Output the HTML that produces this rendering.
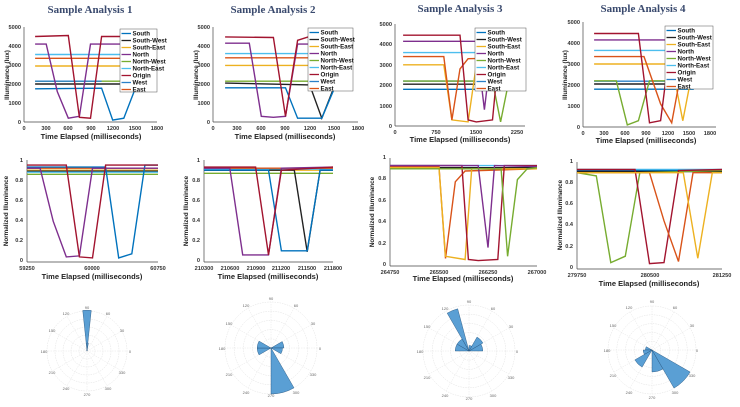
<!DOCTYPE html>
<html><head><meta charset="utf-8"><style>
html,body{margin:0;padding:0;background:#fff;}
svg{display:block;font-family:"Liberation Sans",Arial,sans-serif;}
.t{font-family:"Liberation Serif",serif;font-weight:bold;font-size:11px;fill:#3a4a6e;}
.tk{font-size:5.6px;font-weight:bold;fill:#333;}
.xl{font-size:7.5px;font-weight:bold;fill:#222;}
.yl{font-size:6.3px;font-weight:bold;fill:#222;}
.lg{font-size:6.2px;font-weight:bold;fill:#111;}
</style></head><body>
<div style="position:relative;width:740px;height:407px">
<svg id="s" width="740" height="407" viewBox="0 0 740 407" xmlns="http://www.w3.org/2000/svg" style="position:absolute;left:0;top:0">
<g id="g"></g>
<text class="t" x="90" y="13" text-anchor="middle">Sample Analysis 1</text>
<text class="t" x="273" y="13" text-anchor="middle">Sample Analysis 2</text>
<text class="t" x="460" y="12" text-anchor="middle">Sample Analysis 3</text>
<text class="t" x="643" y="12" text-anchor="middle">Sample Analysis 4</text>

<g class="tk" text-anchor="end">
<text x="21" y="124">0</text><text x="21" y="105">1000</text><text x="21" y="86">2000</text><text x="21" y="67">3000</text><text x="21" y="48">4000</text><text x="21" y="29">5000</text>
<text x="210" y="124">0</text><text x="210" y="105">1000</text><text x="210" y="86">2000</text><text x="210" y="67">3000</text><text x="210" y="48">4000</text><text x="210" y="29">5000</text>
<text x="392" y="128">0</text><text x="392" y="108">1000</text><text x="392" y="87">2000</text><text x="392" y="67">3000</text><text x="392" y="46">4000</text><text x="392" y="26">5000</text>
<text x="580" y="129">0</text><text x="580" y="108">1000</text><text x="580" y="87">2000</text><text x="580" y="66">3000</text><text x="580" y="45">4000</text><text x="580" y="24">5000</text>
</g>
<g class="tk" text-anchor="middle">
<text x="24" y="130">0</text><text x="46" y="130">300</text><text x="68" y="130">600</text><text x="91" y="130">900</text><text x="113" y="130">1200</text><text x="135" y="130">1500</text><text x="157" y="130">1800</text>
<text x="213" y="130">0</text><text x="237" y="130">300</text><text x="261" y="130">600</text><text x="285" y="130">900</text><text x="310" y="130">1200</text><text x="334" y="130">1500</text><text x="358" y="130">1800</text>
<text x="395" y="134">0</text><text x="436" y="134">750</text><text x="476" y="134">1500</text><text x="517" y="134">2250</text>
<text x="583" y="135">0</text><text x="604" y="135">300</text><text x="625" y="135">600</text><text x="646" y="135">900</text><text x="668" y="135">1200</text><text x="689" y="135">1500</text><text x="710" y="135">1800</text>
</g>
<g class="xl" text-anchor="middle">
<text x="91" y="139">Time Elapsed (milliseconds)</text>
<text x="285" y="139">Time Elapsed (milliseconds)</text>
<text x="460" y="142">Time Elapsed (milliseconds)</text>
<text x="646" y="143">Time Elapsed (milliseconds)</text>
<text x="92" y="279">Time Elapsed (milliseconds)</text>
<text x="268" y="279">Time Elapsed (milliseconds)</text>
<text x="463" y="281">Time Elapsed (milliseconds)</text>
<text x="649" y="286">Time Elapsed (milliseconds)</text>
</g>
<g class="yl">
<text transform="translate(9,75) rotate(-90)" text-anchor="middle">Illuminance (lux)</text>
<text transform="translate(198,75) rotate(-90)" text-anchor="middle">Illuminance (lux)</text>
<text transform="translate(567,75) rotate(-90)" text-anchor="middle">Illuminance (lux)</text>
<text transform="translate(8,211) rotate(-90)" text-anchor="middle">Normalized Illuminance</text>
<text transform="translate(188,211) rotate(-90)" text-anchor="middle">Normalized Illuminance</text>
<text transform="translate(374,212) rotate(-90)" text-anchor="middle">Normalized Illuminance</text>
<text transform="translate(562,215) rotate(-90)" text-anchor="middle">Normalized Illuminance</text>
</g>
<g class="tk" text-anchor="end">
<text x="23" y="262">0</text><text x="23" y="242">0.2</text><text x="23" y="222">0.4</text><text x="23" y="202">0.6</text><text x="23" y="182">0.8</text><text x="23" y="162">1</text>
<text x="200" y="262">0</text><text x="200" y="242">0.2</text><text x="200" y="222">0.4</text><text x="200" y="202">0.6</text><text x="200" y="182">0.8</text><text x="200" y="162">1</text>
<text x="386" y="266">0</text><text x="386" y="245">0.2</text><text x="386" y="223">0.4</text><text x="386" y="202">0.6</text><text x="386" y="180">0.8</text><text x="386" y="159">1</text>
<text x="573" y="269">0</text><text x="573" y="248">0.2</text><text x="573" y="226">0.4</text><text x="573" y="205">0.6</text><text x="573" y="184">0.8</text><text x="573" y="163">1</text>
</g>
<g class="tk" text-anchor="middle">
<text x="27" y="270">59250</text><text x="92" y="270">60000</text><text x="158" y="270">60750</text>
<text x="204" y="270">210300</text><text x="230" y="270">210600</text><text x="256" y="270">210900</text><text x="281" y="270">211200</text><text x="307" y="270">211500</text><text x="333" y="270">211800</text>
<text x="390" y="274">264750</text><text x="439" y="274">265500</text><text x="488" y="274">266250</text><text x="537" y="274">267000</text>
<text x="577" y="277">279750</text><text x="650" y="277">280500</text><text x="722" y="277">281250</text>
</g>
<g class="lg" id="lt"></g>
<g text-anchor="middle" font-size="4" fill="#666">
<text x="87" y="309">90</text><text x="87" y="396">270</text><text x="44" y="353">180</text><text x="130" y="353">0</text><text x="66" y="315">120</text><text x="108" y="315">60</text><text x="52" y="332">150</text><text x="122" y="332">30</text><text x="52" y="374">210</text><text x="122" y="374">330</text><text x="66" y="390">240</text><text x="108" y="390">300</text>
<text x="271" y="300">90</text><text x="271" y="397">270</text><text x="222" y="350">180</text><text x="320" y="350">0</text><text x="246" y="307">120</text><text x="296" y="307">60</text><text x="229" y="325">150</text><text x="313" y="325">30</text><text x="229" y="376">210</text><text x="313" y="376">330</text><text x="246" y="394">240</text><text x="296" y="394">300</text>
<text x="469" y="303">90</text><text x="469" y="400">270</text><text x="420" y="353">180</text><text x="517" y="353">0</text><text x="445" y="310">120</text><text x="493" y="310">60</text><text x="427" y="328">150</text><text x="511" y="328">30</text><text x="427" y="379">210</text><text x="511" y="379">330</text><text x="445" y="397">240</text><text x="493" y="397">300</text>
<text x="652" y="303">90</text><text x="652" y="399">270</text><text x="607" y="352">180</text><text x="697" y="352">0</text><text x="629" y="309">120</text><text x="675" y="309">60</text><text x="613" y="327">150</text><text x="692" y="327">30</text><text x="613" y="377">210</text><text x="692" y="377">330</text><text x="629" y="394">240</text><text x="675" y="394">300</text>
</g>
</svg>
</div>
<script>
var NS="http://www.w3.org/2000/svg",G=document.getElementById('g');
function el(n,a,p){var e=document.createElementNS(NS,n);for(var k in a)e.setAttribute(k,a[k]);(p||G).appendChild(e);return e;}
var C={S:'#0072BD',SW:'#222',SE:'#EDB120',N:'#7E2F8E',NW:'#77AC30',NE:'#4DBEEE',O:'#A2142F',W:'#2a80c8',E:'#D95319'};
function chart(f,series){
 el('line',{x1:f.x0,y1:f.y0,x2:f.x0,y2:f.y1,stroke:'#444','stroke-width':0.7});
 el('line',{x1:f.x0,y1:f.y0,x2:f.x1,y2:f.y0,stroke:'#444','stroke-width':0.7});
 function X(v){return f.x0+(v-f.a)/(f.b-f.a)*(f.x1-f.x0);}
 function Y(v){return f.y0+(v-f.c)/(f.d-f.c)*(f.y1-f.y0);}
 series.forEach(function(s){var p=s[1].map(function(q){return X(q[0]).toFixed(1)+','+Y(q[1]).toFixed(1)}).join(' ');
  el('polyline',{points:p,fill:'none',stroke:C[s[0]],'stroke-width':1.4});});
}
function flat(k,v,a,b){return [k,[[a,v],[b,v]]];}
chart({x0:24,x1:157,y0:122,y1:27,a:0,b:1800,c:0,d:5000},[
 flat('SE',2950,150,1500),flat('NE',3550,150,1500),flat('E',3350,150,1500),flat('SW',2000,150,1500),flat('NW',2150,150,1500),flat('W',2150,150,1050),
 ['S',[[150,1750],[1050,1780],[1200,100],[1350,200],[1500,1700]]],
 ['N',[[150,4100],[300,4100],[450,1600],[600,200],[750,300],[900,4100],[1500,4100]]],
 ['O',[[150,4500],[600,4550],[750,250],[900,200],[1050,4500],[1500,4500]]]]);
chart({x0:213,x1:358,y0:122,y1:27,a:0,b:1800,c:0,d:5000},[
 flat('SE',2980,150,1500),flat('NE',3600,150,1500),flat('E',3380,150,1500),flat('NW',2150,150,1500),
 ['SW',[[150,2050],[1200,1950],[1350,200],[1500,1800]]],
 ['S',[[150,1800],[900,1800],[1050,200],[1350,200],[1500,1700]]],
 ['N',[[150,4150],[450,4150],[600,300],[750,250],[900,300],[1050,4100],[1500,4100]]],
 ['O',[[150,4480],[750,4450],[900,300],[1050,4300],[1200,4500],[1500,4500]]]]);
chart({x0:395,x1:525,y0:126,y1:24,a:0,b:2400,c:0,d:5000},[
 flat('NE',3600,150,2400),flat('SW',2050,150,2400),flat('S',1800,150,2400),flat('W',2200,150,2400),
 ['N',[[150,4150],[1500,4150],[1650,800],[1800,4150],[2400,4150]]],
 ['NW',[[150,2200],[1800,2200],[1950,200],[2100,2200],[2400,2200]]],
 ['SE',[[150,3000],[900,3000],[1050,300],[1350,200],[1500,3000],[2400,3000]]],
 ['E',[[150,3400],[900,3400],[1050,300],[1200,2800],[1350,3300],[2400,3350]]],
 ['O',[[150,4450],[1200,4450],[1350,300],[1500,200],[1800,300],[1950,4450],[2400,4450]]]]);
chart({x0:583,x1:716,y0:127,y1:22,a:0,b:1800,c:0,d:5000},[
 flat('NE',3650,150,1500),flat('SW',2050,150,1500),flat('S',1800,150,1500),flat('W',2180,150,1500),flat('N',4150,150,1500),
 ['NW',[[150,2200],[450,2200],[600,100],[750,300],[900,2200],[1500,2200]]],
 ['SE',[[150,3000],[1200,3000],[1350,300],[1500,3000]]],
 ['E',[[150,3350],[825,3350],[1050,1100],[1200,200],[1300,2100],[1500,3350]]],
 ['O',[[150,4450],[750,4450],[900,200],[1050,300],[1200,4450],[1500,4450]]]]);
chart({x0:27,x1:158,y0:262,y1:160,a:59250,b:60750,c:0,d:1},[
 flat('NW',0.86,59250,60750),flat('SE',0.9,59250,60750),flat('SW',0.89,59250,60750),flat('NE',0.88,59250,60750),flat('E',0.92,59250,60750),
 ['S',[[59250,0.93],[60150,0.93],[60300,0.04],[60450,0.08],[60600,0.95],[60750,0.95]]],
 ['N',[[59250,0.92],[59400,0.92],[59550,0.4],[59700,0.05],[59850,0.06],[60000,0.92],[60750,0.92]]],
 ['O',[[59250,0.95],[59700,0.95],[59850,0.05],[60000,0.04],[60150,0.95],[60750,0.95]]]]);
chart({x0:204,x1:333,y0:262,y1:160,a:210300,b:211800,c:0,d:1},[
 flat('NW',0.87,210300,211800),flat('SE',0.9,210300,211800),flat('NE',0.91,210300,211800),flat('E',0.92,210300,211800),
 ['SW',[[210300,0.9],[211350,0.9],[211500,0.1],[211650,0.9],[211800,0.9]]],
 ['S',[[210300,0.9],[211050,0.9],[211200,0.11],[211500,0.11],[211650,0.9],[211800,0.9]]],
 ['N',[[210300,0.92],[210600,0.92],[210750,0.07],[210900,0.07],[211050,0.07],[211200,0.92],[211800,0.93]]],
 ['O',[[210300,0.93],[210900,0.93],[211050,0.07],[211200,0.9],[211800,0.93]]]]);
chart({x0:390,x1:537,y0:266,y1:158,a:264750,b:267000,c:0,d:1},[
 flat('NE',0.93,264750,267000),flat('S',0.9,264750,267000),flat('SW',0.91,264750,267000),
 ['E',[[264750,0.92],[265500,0.92],[265600,0.07],[265750,0.78],[265900,0.88],[267000,0.9]]],
 ['SE',[[264750,0.91],[265500,0.91],[265600,0.09],[265900,0.06],[266000,0.9],[267000,0.9]]],
 ['O',[[264750,0.93],[265850,0.93],[265950,0.06],[266100,0.05],[266400,0.06],[266500,0.93],[267000,0.93]]],
 ['N',[[264750,0.93],[266100,0.93],[266250,0.17],[266350,0.93],[267000,0.92]]],
 ['NW',[[264750,0.9],[266450,0.9],[266550,0.09],[266700,0.8],[266850,0.9],[267000,0.91]]]]);
chart({x0:577,x1:722,y0:269,y1:162,a:279750,b:281250,c:0,d:1},[
 flat('NE',0.93,279750,281250),flat('S',0.92,279750,281250),flat('SW',0.91,279750,281250),
 ['NW',[[279750,0.9],[279950,0.87],[280100,0.06],[280250,0.12],[280400,0.9],[281250,0.92]]],
 ['O',[[279750,0.93],[280350,0.93],[280500,0.05],[280650,0.06],[280800,0.92],[281250,0.93]]],
 ['E',[[279750,0.9],[280500,0.9],[280650,0.45],[280800,0.07],[280950,0.9],[281250,0.9]]],
 ['SE',[[279750,0.9],[280850,0.9],[281000,0.1],[281150,0.9],[281250,0.9]]]]);
var names=[['S','South'],['SW','South-West'],['SE','South-East'],['N','North'],['NW','North-West'],['NE','North-East'],['O','Origin'],['W','West'],['E','East']];
var LT=document.getElementById('lt');
[[120,29,37],[308,28,45],[475,28,51],[665,26,48]].forEach(function(L){
 el('rect',{x:L[0],y:L[1],width:L[2],height:63,fill:'#fff',stroke:'#555','stroke-width':0.5});
 names.forEach(function(n,i){var y=L[1]+4.5+i*7;
  el('line',{x1:L[0]+1.5,y1:y,x2:L[0]+11,y2:y,stroke:C[n[0]],'stroke-width':1.3});
  var t=el('text',{x:L[0]+12.5,y:y+2.2},LT);t.textContent=n[1];});
});
function polar(cx,cy,r,bars){
 for(var k=1;k<=5;k++)el('circle',{cx:cx,cy:cy,r:r*k/5,fill:'none',stroke:'#e0e0e0','stroke-width':0.5,'stroke-dasharray':'1.5,1'});
 for(var a=0;a<360;a+=30){var t=a*Math.PI/180;el('line',{x1:cx,y1:cy,x2:cx+r*Math.cos(t),y2:cy-r*Math.sin(t),stroke:'#e6e6e6','stroke-width':0.5,'stroke-dasharray':'1.5,1'});}
 bars.forEach(function(b){var a1=b[0]*Math.PI/180,a2=b[1]*Math.PI/180,rr=r*b[2];
  el('path',{d:'M'+cx+','+cy+'L'+(cx+rr*Math.cos(a1))+','+(cy-rr*Math.sin(a1))+'A'+rr+','+rr+' 0 0 0 '+(cx+rr*Math.cos(a2))+','+(cy-rr*Math.sin(a2))+'Z',fill:'#5a9fd4',stroke:'#1f4e79','stroke-width':0.4});});
}
polar(87,351,40,[[84,96,1.02],[80,90,0.2]]);
polar(271,348,46,[[270,300,1.0],[180,210,0.3],[150,180,0.3],[0,30,0.28],[330,360,0.25]]);
polar(469,351,46,[[105,120,0.95],[150,180,0.3],[0,30,0.3],[30,60,0.35],[120,150,0.3],[60,90,0.12]]);
polar(652,350,44,[[300,330,1.0],[270,300,0.5],[210,240,0.45],[150,180,0.15],[180,210,0.2]]);
</script>
</body></html>
